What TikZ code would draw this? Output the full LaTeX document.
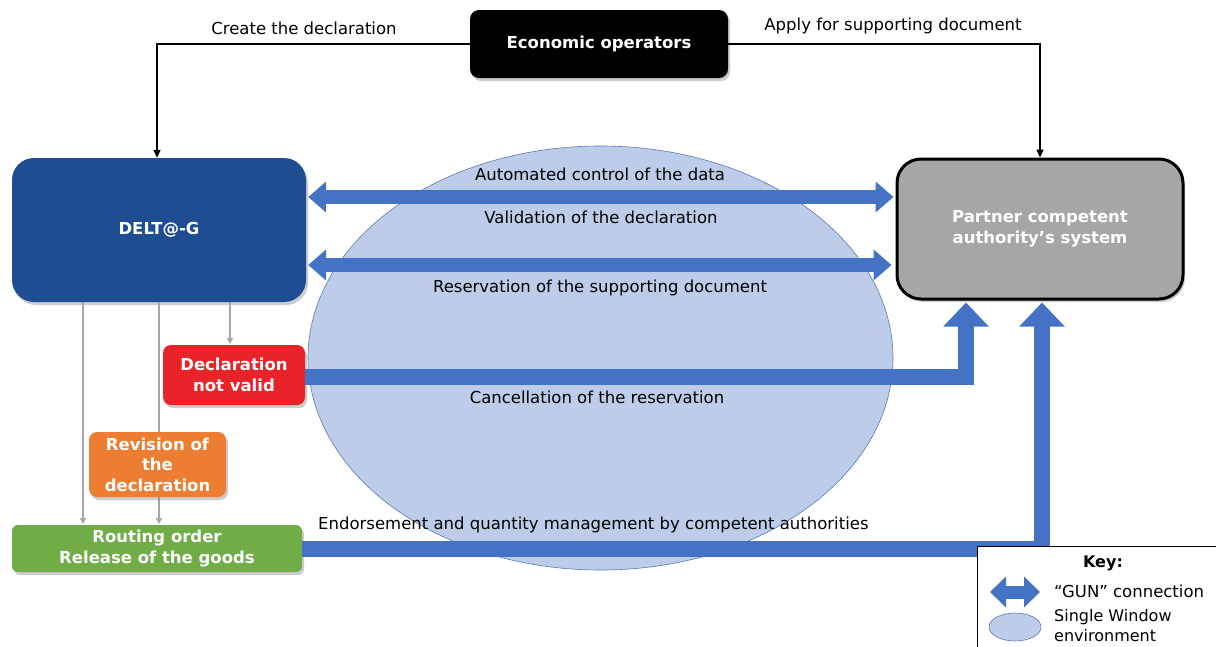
\documentclass[tikz,border=0pt]{standalone}
\usepackage{fontspec}
\setmainfont{DejaVu Sans}
\usetikzlibrary{arrows.meta,shapes.geometric,shadows,calc}
\definecolor{deltblue}{HTML}{1E4D91}
\definecolor{gunblue}{HTML}{4472C4}
\definecolor{swfill}{HTML}{BDCDE9}
\definecolor{swdraw}{HTML}{5A7AB5}
\definecolor{partgray}{HTML}{A6A6A6}
\definecolor{dnvred}{HTML}{E9232A}
\definecolor{revorange}{HTML}{ED7D31}
\definecolor{routegreen}{HTML}{70AD47}
\definecolor{linegray}{HTML}{A6A6A6}
\tikzset{
  txt/.style={font=\fontsize{16.5}{20.5}\selectfont, inner sep=0pt},
  boxbase/.style={txt, text=white, font=\fontsize{16.5}{20.5}\selectfont\bfseries, align=center,
     drop shadow={shadow xshift=2pt, shadow yshift=-3pt, opacity=0.4}},
  gun/.style={line width=14pt, color=gunblue,
     {Triangle[width=30pt,length=18pt]}-{Triangle[width=30pt,length=18pt]}},
  upbar/.style={line width=16pt, color=gunblue, line join=miter,
     -{Triangle[width=44pt,length=24pt]}},
  blackconn/.style={line width=1.6pt, -{Triangle[width=7pt,length=8pt]}},
  grayconn/.style={line width=1.4pt, color=linegray, -{Triangle[width=6pt,length=6pt]}},
}
\begin{document}
\begin{tikzpicture}[x=1pt,y=-1pt]
\useasboundingbox (0,0) rectangle (1216,646);

% single window ellipse
\node[ellipse, draw=swdraw, line width=0.6pt, fill=swfill, minimum width=585pt, minimum height=424pt, inner sep=0pt] (sw) at (600.5,358) {};

% main nodes
\node[boxbase, fill=black, rounded corners=9pt, minimum width=258pt, minimum height=68pt] (eo) at (599,44) {Economic operators};
\node[boxbase, fill=deltblue, rounded corners=22pt, minimum width=294pt, minimum height=144pt] (delt) at (159,230) {DELT@-G};
\node[boxbase, fill=partgray, draw=black, line width=3pt, rounded corners=24pt, minimum width=286pt, minimum height=140pt] (partner) at (1040,229) {Partner competent\\authority’s system};

% gray thin connectors
\coordinate (g1) at (83,524);
\coordinate (g2) at (159,524);
\coordinate (g3) at (230,344);
\coordinate (dnvc) at (234,375);
\coordinate (revc) at (157.5,464.5);
\coordinate (routec) at (157,548.5);
\draw[grayconn] (delt.south -| g1) -- (g1);
\draw[grayconn] (delt.south -| g2) -- (g2);
\draw[grayconn] (delt.south -| g3) -- (g3);

\node[boxbase, fill=dnvred, rounded corners=8pt, minimum width=142pt, minimum height=60pt] (dnv) at (dnvc) {Declaration\\not valid};
\node[boxbase, fill=revorange, rounded corners=8pt, minimum width=137pt, minimum height=65pt] (rev) at (revc) {Revision of\\the\\declaration};
\node[boxbase, fill=routegreen, rounded corners=6pt, minimum width=290pt, minimum height=47pt] (route) at (routec) {Routing order\\Release of the goods};

% top connectors
\coordinate (t1) at (157,44);
\coordinate (t2) at (1040,44);
\draw[blackconn] (eo.west |- t1) -| (delt.north -| t1);
\draw[blackconn] (eo.east |- t2) -| (partner.north -| t2);
\node[txt] (lcreate) at (304,28) {Create the declaration};
\node[txt] (lapply) at (893,26) {Apply for supporting document};

% GUN connections
\coordinate (a1) at (0,197);
\coordinate (a2) at (0,265);
\draw[gun] ([xshift=2pt]delt.east |- a1) -- ([xshift=-2pt]partner.west |- a1);
\draw[gun] ([xshift=2pt]delt.east |- a2) -- ([xshift=-4pt]partner.west |- a2);

\coordinate (c1) at (966,377);
\draw[upbar] (dnv.east |- c1) -| ([yshift=-2pt]partner.south -| c1);
\coordinate (e1) at (1042,549);
\draw[upbar] (route.east |- e1) -| ([yshift=-2pt]partner.south -| e1);

% labels
\node[txt] (l1) at (600,174) {Automated control of the data};
\node[txt] (l2) at (601,217) {Validation of the declaration};
\node[txt] (l3) at (600,288) {Reservation of the supporting document};
\node[txt] (l4) at (597,397) {Cancellation of the reservation};
\node[txt, anchor=west] (l5) at (318,525) {Endorsement and quantity management by competent authorities};

% key
\node[draw=black, line width=0.8pt, fill=white, minimum width=250pt, minimum height=115pt, inner sep=0pt, anchor=north west] (key) at (977,546) {};
\node[txt, font=\fontsize{16}{20}\selectfont\bfseries] (keyt) at (1103,563) {Key:};
\coordinate (k1) at (990,592);
\coordinate (k2) at (1040,592);
\draw[line width=13pt, color=gunblue, {Triangle[width=30pt,length=16pt]}-{Triangle[width=30pt,length=16pt]}] (k1) -- (k2);
\node[ellipse, draw=swdraw, line width=0.6pt, fill=swfill, minimum width=52pt, minimum height=28pt, inner sep=0pt] (kell) at (1015,627) {};
\node[txt, anchor=west] (kg) at (1054,591) {“GUN” connection};
\node[txt, anchor=west, align=left, font=\fontsize{16}{20}\selectfont] (ks) at (1054,626) {Single Window\\environment};
\end{tikzpicture}
\end{document}
